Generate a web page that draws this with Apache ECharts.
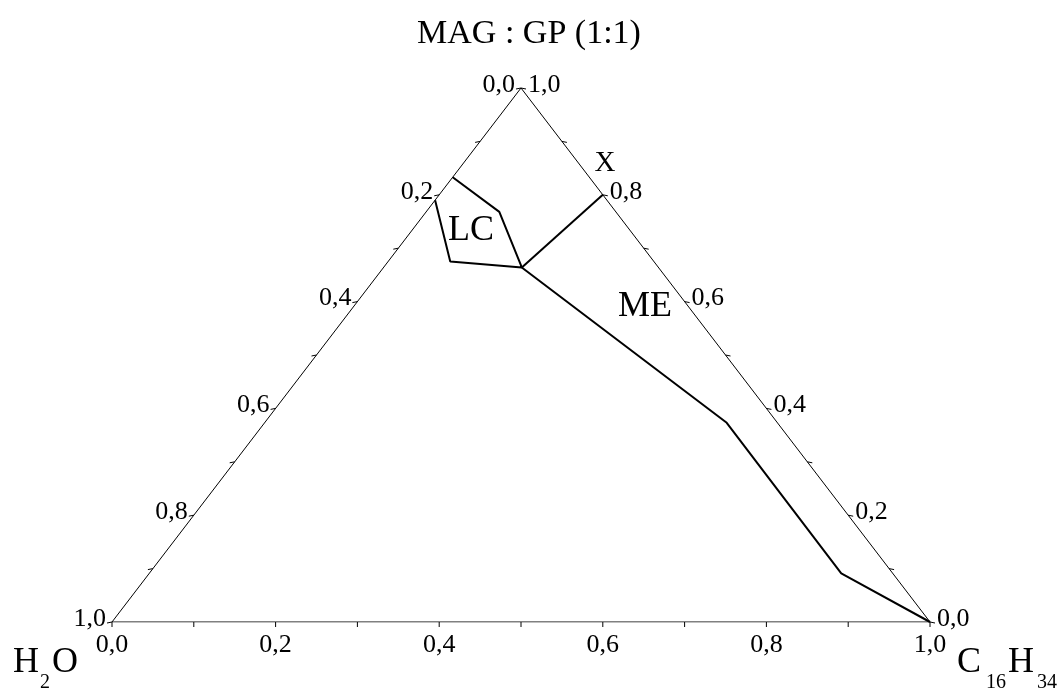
<!DOCTYPE html>
<html><head><meta charset="utf-8">
<script src="https://cdn.jsdelivr.net/npm/echarts@6/dist/echarts.min.js"></script>
<style>html,body{margin:0;padding:0;background:#fff}#c{width:1059px;height:691px}</style>
</head><body><div id="c"></div>
<script>
// Compositions are [H2O, C16H34, X (MAG:GP 1:1)] mass fractions
const tickValues = [0, 0.1, 0.2, 0.3, 0.4, 0.5, 0.6, 0.7, 0.8, 0.9, 1.0];
const labelValues = [0, 0.2, 0.4, 0.6, 0.8, 1.0];
const tickLabels = ['0,0', '0,2', '0,4', '0,6', '0,8', '1,0'];
const vertices = [[1, 0, 0], [0, 1, 0], [0, 0, 1]];
const lcBoundary = [[0.167, 0, 0.833], [0.1425, 0.0895, 0.768], [0.167, 0.169, 0.664], [0.249, 0.076, 0.675], [0.21, 0, 0.79]];
const lcMeLine = [[0.167, 0.169, 0.664], [0, 0.2, 0.8]];
const meBoundary = [[0.167, 0.169, 0.664], [0.062, 0.565, 0.373], [0.063, 0.846, 0.091], [0, 1, 0]];

const FONT = "'Liberation Serif','Times New Roman',serif";
const toCart = c => [c[1] + c[2] / 2, c[2]];

const edgePoints = {
  bottom: tickValues.map(v => toCart([1 - v, v, 0]).concat([v])),
  left: tickValues.map(v => toCart([v, 0, 1 - v]).concat([v])),
  right: tickValues.map(v => toCart([0, 1 - v, v]).concat([v]))
};

function tickSeries(name, points, dx, dy, lx, ly, align) {
  return {
    name, type: 'custom', coordinateSystem: 'cartesian2d', clip: false, silent: true,
    data: points, encode: { x: 0, y: 1 },
    renderItem: (params, api) => {
      const p = api.coord([api.value(0), api.value(1)]);
      const v = api.value(2);
      const children = [{ type: 'line', shape: { x1: p[0], y1: p[1], x2: p[0] + dx, y2: p[1] + dy }, style: { stroke: '#000', lineWidth: 1 } }];
      const idx = labelValues.findIndex(l => Math.abs(l - v) < 1e-6);
      if (idx >= 0) {
        children.push({ type: 'text', x: p[0] + lx, y: p[1] + ly,
          style: { text: tickLabels[idx], fill: '#000', fontSize: 26, fontFamily: FONT, align, verticalAlign: 'middle' } });
      }
      return { type: 'group', children };
    }
  };
}

function lineSeries(name, comps, width) {
  return { name, type: 'line', data: comps.map(toCart), symbol: 'none', silent: true,
    lineStyle: { color: '#000', width }, animation: false };
}

function txt(text, x, y, size, align) {
  return { type: 'text', x, y, style: { text, fill: '#000', fontSize: size, fontFamily: FONT, align: align || 'center', verticalAlign: 'middle' } };
}

const chart = echarts.init(document.getElementById('c'), null, { renderer: 'canvas' });
chart.setOption({
  animation: false,
  backgroundColor: '#fff',
  title: { text: 'MAG : GP (1:1)', left: 524, textAlign: 'center', top: 12,
    textStyle: { fontSize: 34, fontWeight: 'normal', fontFamily: FONT, color: '#000' } },
  grid: { left: 112, right: 129, top: 88, bottom: 69 },
  xAxis: { type: 'value', min: 0, max: 1, show: false },
  yAxis: { type: 'value', min: 0, max: 1, show: false },
  series: [
    lineSeries('edges', vertices.concat([vertices[0]]), 1),
    tickSeries('bottomTicks', edgePoints.bottom, 0, 5, 0, 23, 'center'),
    tickSeries('leftTicks', edgePoints.left, -5, 1, -6, -3, 'right'),
    tickSeries('rightTicks', edgePoints.right, 5, 1, 7, -3, 'left'),
    lineSeries('LC', lcBoundary, 2),
    lineSeries('LC-ME', lcMeLine, 2),
    lineSeries('ME', meBoundary, 2)
  ],
  graphic: [
    txt('LC', 471, 231, 36),
    txt('ME', 645, 307, 36),
    txt('X', 605, 163, 29),
    txt('H', 13, 663, 36, 'left'),
    txt('2', 40, 683, 20, 'left'),
    txt('O', 52, 663, 36, 'left'),
    txt('C', 957, 663, 36, 'left'),
    txt('16', 986, 683, 20, 'left'),
    txt('H', 1008, 663, 36, 'left'),
    txt('34', 1037, 683, 20, 'left')
  ]
});
</script></body></html>
